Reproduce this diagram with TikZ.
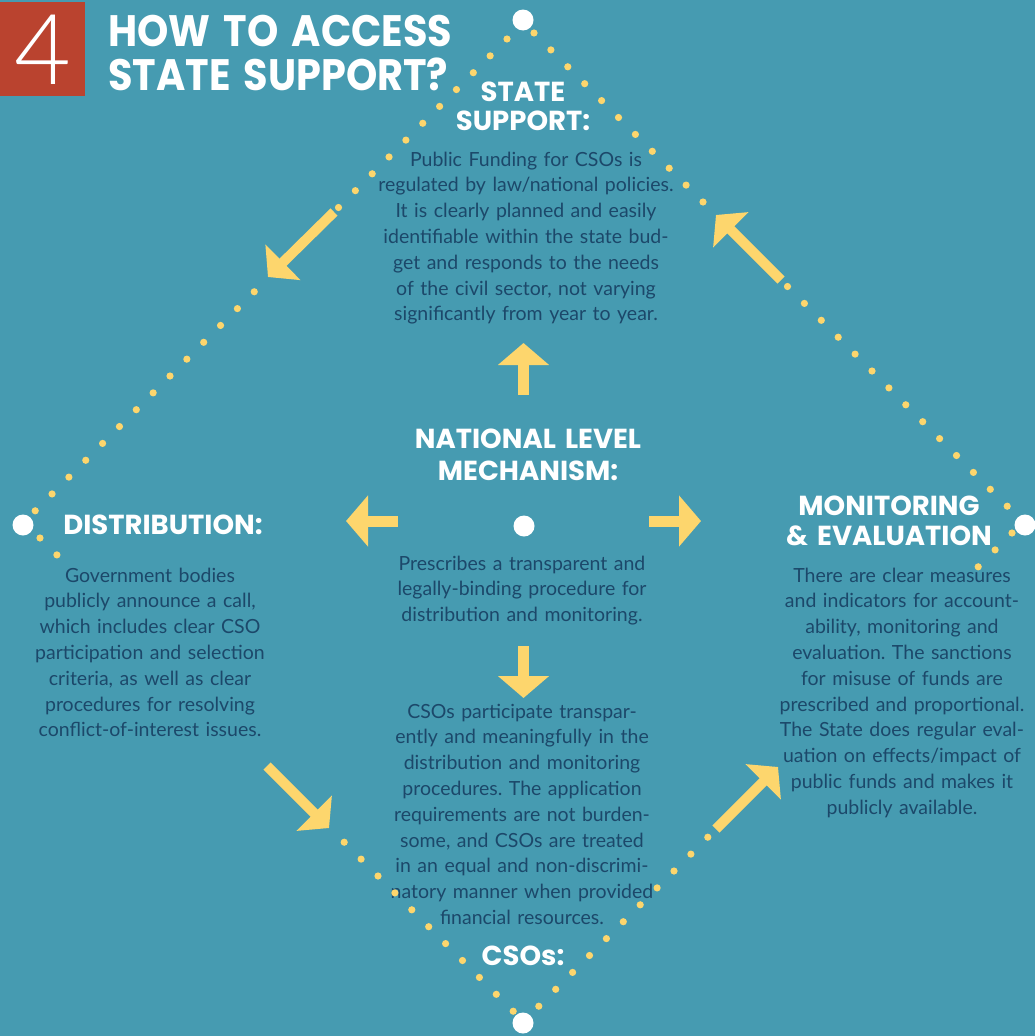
\documentclass[tikz,border=0pt]{standalone}
\usepackage{fontspec}
\usetikzlibrary{arrows.meta}
\setmainfont{Lato}
\newfontfamily\headfont{Poppins}
\IfFontExistsTF{Lato Light}{\newfontfamily\thinfont{Lato Light}}{\newfontfamily\thinfont{Lato}}
\definecolor{bg}{HTML}{469BB1}
\definecolor{boxred}{HTML}{BA432F}
\definecolor{dotc}{HTML}{FDD66D}
\definecolor{txt}{HTML}{1C486A}
\frenchspacing
\tikzset{
  body/.style={text=txt, font=\fontsize{19.5}{25.8}\selectfont, align=center, text width=330pt, inner sep=0pt, anchor=base},
  head/.style={text=white, font=\headfont\bfseries\fontsize{27.5}{29.5}\selectfont, align=center, text width=330pt, inner sep=0pt, anchor=base},
  wdot/.style={circle, fill=white, minimum size=21pt, inner sep=0pt},
  ydot/.style={fill=dotc},
  yarrow/.style={draw=dotc, line width=11pt, -{Triangle[width=50pt,length=22pt]}},
  darrow/.style={draw=dotc, line width=10pt, -{Triangle[width=49pt,length=21pt]}}
}
\begin{document}
\begin{tikzpicture}[x=1pt,y=-1pt]
\useasboundingbox (0,0) rectangle (1035,1036);
\fill[bg] (0,0) rectangle (1035,1036);
% title block
\fill[boxred] (0,2) rectangle (85,96);
\node[text=white, font=\thinfont\fontsize{98}{98}\selectfont, anchor=base, inner sep=0pt] (four) at (43,84) {4};
\node[text=white, font=\headfont\bfseries\fontsize{44}{44}\selectfont, align=left, text width=420pt, anchor=base west, inner sep=0pt, xscale=0.905, transform shape] (title) at (108,46) {HOW TO ACCESS\\STATE SUPPORT?};
% headings
\node[head] (hstate) at (523,101) {STATE\\SUPPORT:};
\node[head, font=\headfont\bfseries\fontsize{27.5}{32}\selectfont] (hnat) at (528,448) {NATIONAL LEVEL\\MECHANISM:};
\node[head] (hdist) at (163,534) {DISTRIBUTION:};
\node[head, font=\headfont\bfseries\fontsize{27.5}{30}\selectfont] (hmon) at (889,515) {MONITORING\\\&{} EVALUATION};
\node[head] (hcso) at (523,965) {CSOs:};
% body texts
\node[body] (tstate) at (526,166) {Public Funding for CSOs is\\regulated by law/national policies.\\It is clearly planned and easily\\identifiable within the state bud-\\get and responds to the needs\\of the civil sector, not varying\\significantly from year to year.};
\node[body] (tnat) at (522,570) {Prescribes a transparent and\\legally-binding procedure for\\distribution and monitoring.};
\node[body] (tcso) at (522,718) {CSOs participate transpar-\\ently and meaningfully in the\\distribution and monitoring\\procedures. The application\\requirements are not burden-\\some, and CSOs are treated\\in an equal and non-discrimi-\\natory manner when provided\\financial resources.};
\node[body] (tdist) at (150,582) {Government bodies\\publicly announce a call,\\which includes clear CSO\\participation and selection\\criteria, as well as clear\\procedures for resolving\\conflict-of-interest issues.};
\node[body] (tmon) at (902,582) {There are clear measures\\and indicators for account-\\ability, monitoring and\\evaluation. The sanctions\\for misuse of funds are\\prescribed and proportional.\\The State does regular eval-\\uation on effects/impact of\\public funds and makes it\\publicly available.};
% dotted diamond
\foreach \k in {0,...,10,15,16,...,28} {
  \fill[ydot] ({507-16.85*\k},{39+16.85*\k}) circle[radius=3.6pt];
  \fill[ydot] ({534+16.9*\k},{33+16.9*\k}) circle[radius=3.6pt];
}
\foreach \j in {0,1,2,18,19,...,28} {
  \fill[ydot] ({1012-16.9*\j},{533+16.9*\j}) circle[radius=3.6pt];
}
\foreach \i in {0,1,18,19,...,28} {
  \fill[ydot] ({40+16.9*\i},{538+16.9*\i}) circle[radius=3.6pt];
}
% white dots
\node[wdot] (vtop) at (523,20) {};
\node[wdot] (vleft) at (23,525) {};
\node[wdot] (vright) at (1025,525) {};
\node[wdot] (vbot) at (523,1023) {};
\node[wdot] (vcen) at (524,526) {};
% arrows
\coordinate (upA) at (523.5,395); \coordinate (upB) at (523.5,343);
\coordinate (dnA) at (523.5,646); \coordinate (dnB) at (523.5,698);
\coordinate (ltA) at (398,521); \coordinate (ltB) at (346,521);
\coordinate (rtA) at (649,521); \coordinate (rtB) at (701,521);
\coordinate (tlA) at (334,212); \coordinate (tlB) at (268,277);
\coordinate (trA) at (781,280); \coordinate (trB) at (716,215);
\coordinate (brA) at (716,829); \coordinate (brB) at (778,767);
\coordinate (blA) at (267,766); \coordinate (blB) at (329,828);
\draw[yarrow] (upA) -- (upB);
\draw[yarrow] (dnA) -- (dnB);
\draw[yarrow] (ltA) -- (ltB);
\draw[yarrow] (rtA) -- (rtB);
\draw[darrow] (tlA) -- (tlB);
\draw[darrow] (trA) -- (trB);
\draw[darrow] (brA) -- (brB);
\draw[darrow] (blA) -- (blB);
\end{tikzpicture}
\end{document}
